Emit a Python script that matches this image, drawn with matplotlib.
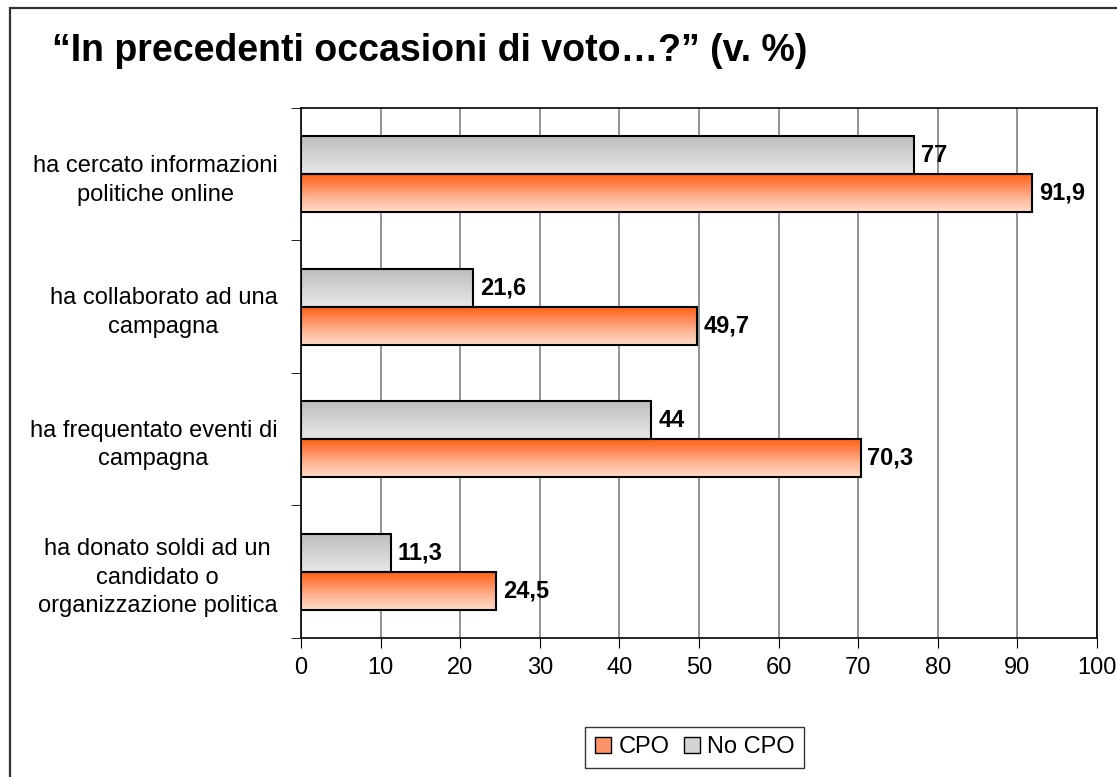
import numpy as np
import matplotlib
matplotlib.use('Agg')
import matplotlib.pyplot as plt
from matplotlib.patches import Rectangle, Patch
from matplotlib.colors import LinearSegmentedColormap

plt.rcParams['font.family'] = ['Liberation Sans', 'DejaVu Sans']

categories = ['ha cercato informazioni\npolitiche online',
              'ha collaborato ad una\ncampagna',
              'ha frequentato eventi di\ncampagna',
              'ha donato soldi ad un\ncandidato o\norganizzazione politica']
cpo = [91.9, 49.7, 70.3, 24.5]
no_cpo = [77, 21.6, 44, 11.3]
cpo_labels = ['91,9', '49,7', '70,3', '24,5']
no_cpo_labels = ['77', '21,6', '44', '11,3']

orange_cm = LinearSegmentedColormap.from_list('or', ['#ff6010', '#ff8a58', '#ffb898', '#ffdcc6'])
gray_cm = LinearSegmentedColormap.from_list('gr', ['#bdbdbd', '#e8e8e8'])

fig = plt.figure(figsize=(11.17, 7.77), dpi=100)
ax = fig.add_axes([0.2695, 0.179, 0.7125, 0.682])

y = np.arange(len(categories))
h = 0.287

grad = np.linspace(0, 1, 64).reshape(-1, 1)


def gradient_bars(bars, cmap):
    for b in bars:
        b.set_facecolor('none')
        x0, y0 = b.get_x(), b.get_y()
        w, hh = b.get_width(), b.get_height()
        # y axis is inverted: first row of grad goes to the top of the bar
        im = ax.imshow(grad, cmap=cmap, aspect='auto', extent=(x0, x0 + w, y0 + hh, y0),
                       origin='upper', zorder=2)
        im.set_clip_path(b)


b_gray = ax.barh(y - h / 2, no_cpo, height=h, edgecolor='black', linewidth=1.5, zorder=3)
b_or = ax.barh(y + h / 2, cpo, height=h, edgecolor='black', linewidth=1.5, zorder=3)
gradient_bars(b_gray, gray_cm)
gradient_bars(b_or, orange_cm)

for i in range(len(categories)):
    ax.annotate(no_cpo_labels[i], (no_cpo[i], y[i] - h / 2), xytext=(5, 0), textcoords='offset points',
                va='center', ha='left', fontsize=17, fontweight='bold')
    ax.annotate(cpo_labels[i], (cpo[i], y[i] + h / 2), xytext=(5, 0), textcoords='offset points',
                va='center', ha='left', fontsize=17, fontweight='bold')

ax.set_xlim(0, 100)
ax.set_ylim(len(categories) - 0.5, -0.5)
ax.set_xticks(np.arange(0, 101, 10))
ax.tick_params(axis='x', labelsize=17, length=7, direction='out', pad=7)
ax.set_yticks(y)
ax.set_yticklabels(categories, multialignment='center', fontsize=17, linespacing=1.4)
ax.set_yticks(np.arange(-0.5, len(categories), 1), minor=True)
ax.tick_params(axis='y', which='major', length=0, pad=17)
ax.tick_params(axis='y', which='minor', length=7, direction='out')
ax.xaxis.grid(True, color='#808080', linewidth=1.2)
ax.set_axisbelow(True)
for s in ax.spines.values():
    s.set_color('black')
    s.set_linewidth(1.2)

handles = [Patch(facecolor='#ff9468', edgecolor='black', label='CPO'),
           Patch(facecolor='#d4d4d4', edgecolor='black', label='No CPO')]
leg = fig.legend(handles=handles, loc='center', bbox_to_anchor=(0.622, 0.038), ncol=2,
                 fontsize=17, frameon=True, fancybox=False, edgecolor='black',
                 handlelength=0.7, handleheight=0.7, handletextpad=0.3, columnspacing=0.6,
                 borderpad=0.4)
leg.get_frame().set_linewidth(1)

fig.text(0.047, 0.922, '\u201cIn precedenti occasioni di voto\u2026?\u201d (v. %)',
         fontsize=27, fontweight='bold', va='baseline', ha='left')

fig.patches.append(Rectangle((10 / 1117, -0.2), 1.2, 1.2 - 8 / 777,
                             transform=fig.transFigure, fill=False, edgecolor='#333333',
                             linewidth=1.6, figure=fig))

fig.savefig('out.png', dpi=100)
